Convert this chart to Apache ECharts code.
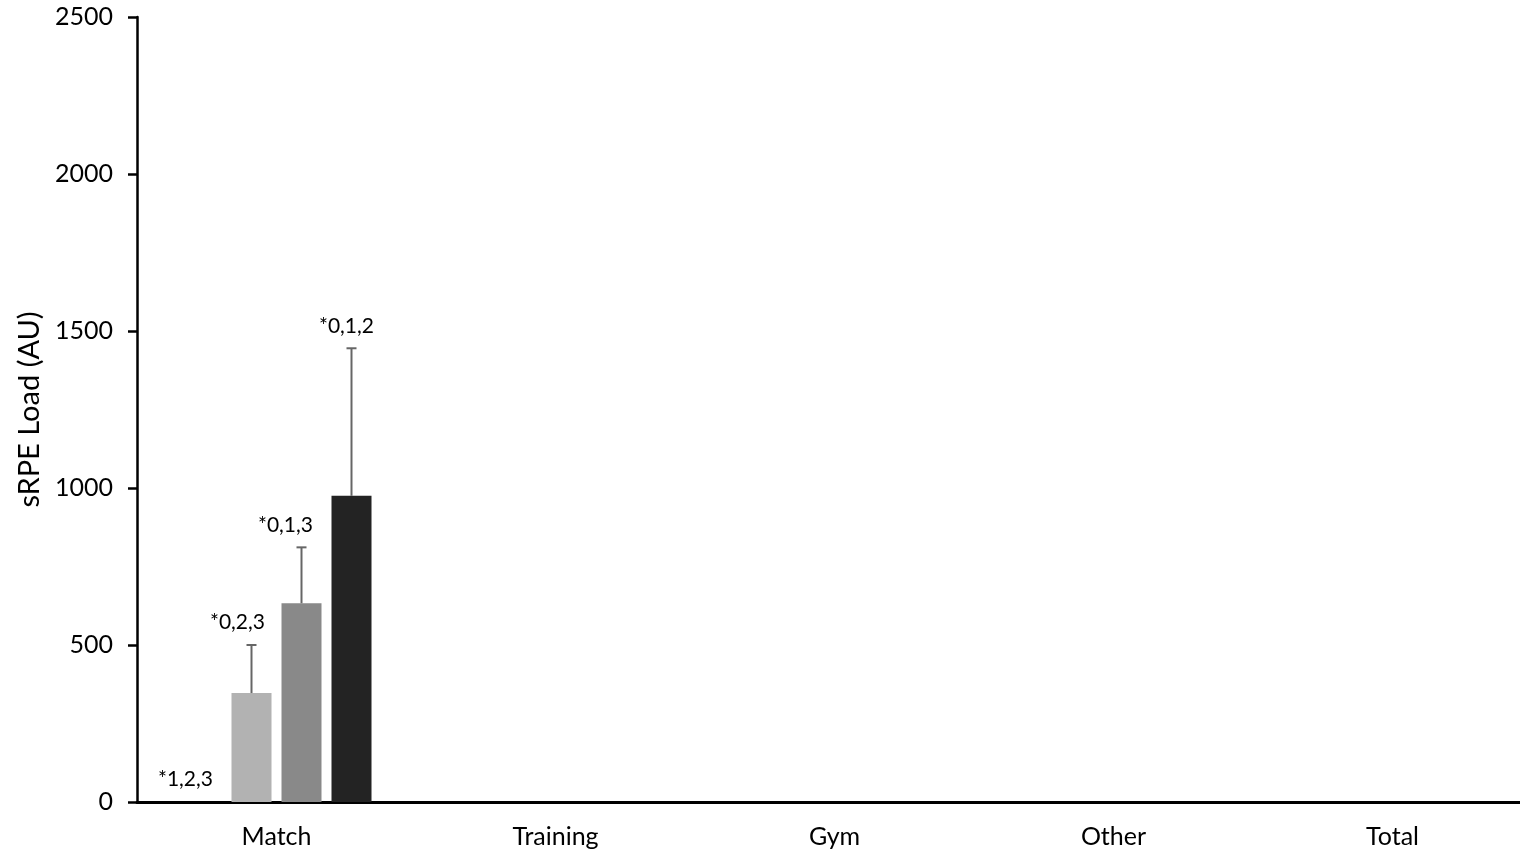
<!DOCTYPE html>
<html>
<head>
<meta charset="utf-8">
<script src="https://cdn.jsdelivr.net/npm/echarts@6/dist/echarts.min.js"></script>
<style>
  html, body { margin: 0; padding: 0; background: #fff; }
  #chart { width: 1520px; height: 853px; }
</style>
</head>
<body>
<div id="chart"></div>
<script>
// Session load by context, four groups (0-3)
const categories = ['Match', 'Training', 'Gym', 'Other', 'Total'];
const groupNames = ['0', '1', '2', '3'];

const mean0 = [0, 0, 0, 0, 0];
const mean1 = [347, 0, 0, 0, 0];
const mean2 = [633, 0, 0, 0, 0];
const mean3 = [975, 0, 0, 0, 0];

const sd0 = [0, 0, 0, 0, 0];
const sd1 = [153, 0, 0, 0, 0];
const sd2 = [178, 0, 0, 0, 0];
const sd3 = [470, 0, 0, 0, 0];

const sig0 = ['*1,2,3', '', '', '', ''];
const sig1 = ['*0,2,3', '', '', '', ''];
const sig2 = ['*0,1,3', '', '', '', ''];
const sig3 = ['*0,1,2', '', '', '', ''];

const yTicks = [0, 500, 1000, 1500, 2000, 2500];

const means = [mean0, mean1, mean2, mean3];
const sds = [sd0, sd1, sd2, sd3];
const sigs = [sig0, sig1, sig2, sig3];

const barColors = ['#ffffff', '#b2b2b2', '#898989', '#232323'];
const labelShift = [-16, -14, -16, -5];
const FONT = 'Lato, "Open Sans", sans-serif';
const BAR_W = 40;
const BAR_GAP = '25%';

const barSeries = groupNames.map((name, i) => ({
  name: name,
  type: 'bar',
  barWidth: BAR_W,
  barGap: BAR_GAP,
  itemStyle: { color: barColors[i] },
  silent: true,
  data: means[i]
}));

// error whiskers and significance marks, one item per group/category
const errData = [];
groupNames.forEach((g, i) => {
  categories.forEach((c, j) => {
    if (means[i][j] > 0 || sigs[i][j]) {
      errData.push([j, means[i][j], sds[i][j], i, sigs[i][j]]);
    }
  });
});

const errSeries = {
  type: 'custom',
  silent: true,
  z: 5,
  data: errData,
  encode: { x: 0, y: 1 },
  renderItem: function (params, api) {
    const j = api.value(0);
    const m = api.value(1);
    const sd = api.value(2);
    const gi = api.value(3);
    const text = errData[params.dataIndex][4];
    const layout = api.barLayout({ count: groupNames.length, barWidth: BAR_W, barGap: BAR_GAP });
    const cx = api.coord([j, 0])[0] + layout[gi].offsetCenter;
    const yTop = api.coord([j, m])[1];
    const yErr = api.coord([j, m + sd])[1];
    const children = [];
    if (sd > 0) {
      children.push({
        type: 'line',
        shape: { x1: cx, y1: yTop, x2: cx, y2: yErr },
        style: { stroke: '#666', lineWidth: 2 }
      });
      children.push({
        type: 'line',
        shape: { x1: cx - 5, y1: yErr, x2: cx + 5, y2: yErr },
        style: { stroke: '#666', lineWidth: 2 }
      });
    }
    if (text) {
      children.push({
        type: 'text',
        x: cx + labelShift[gi],
        y: yErr - 12,
        style: {
          text: text,
          fill: '#000',
          font: '21px ' + FONT,
          textAlign: 'center',
          textVerticalAlign: 'bottom'
        }
      });
    }
    return { type: 'group', children: children };
  }
};

const chart = echarts.init(document.getElementById('chart'), null, { renderer: 'canvas' });
chart.setOption({
  animation: false,
  backgroundColor: '#fff',
  grid: { left: 137, top: 17, width: 1395, height: 785, containLabel: false, outerBoundsMode: 'none' },
  xAxis: {
    type: 'category',
    data: categories,
    axisLine: { show: true, lineStyle: { color: '#000', width: 3 } },
    axisTick: { show: false },
    axisLabel: { color: '#000', fontSize: 25, fontFamily: FONT, margin: 22 },
    splitLine: { show: false }
  },
  yAxis: {
    type: 'value',
    min: yTicks[0],
    max: yTicks[yTicks.length - 1],
    interval: yTicks[1] - yTicks[0],
    name: 'sRPE Load (AU)',
    nameLocation: 'middle',
    nameGap: 92,
    nameRotate: 90,
    nameTextStyle: { color: '#000', fontSize: 29, fontFamily: FONT },
    axisLine: { show: true, lineStyle: { color: '#000', width: 2.5 } },
    axisTick: { show: true, inside: false, length: 9, lineStyle: { color: '#000', width: 2.5 } },
    axisLabel: { color: '#000', fontSize: 25, fontFamily: FONT, margin: 24, formatter: v => String(v) },
    splitLine: { show: false }
  },
  series: barSeries.concat([errSeries])
});
</script>
</body>
</html>
